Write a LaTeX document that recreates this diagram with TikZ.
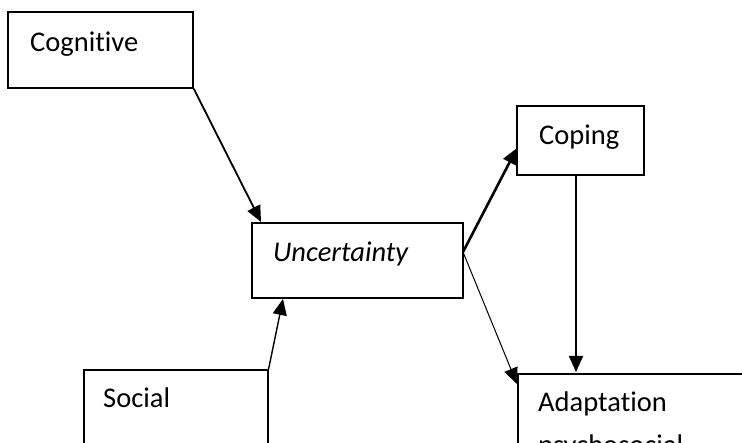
\documentclass[tikz,border=0pt]{standalone}
\usepackage{fontspec}
\setmainfont{Carlito}[Ligatures={NoCommon}]
\usetikzlibrary{arrows.meta}
\begin{document}
\begin{tikzpicture}[x=1pt,y=-1pt,
  boxline/.style={draw=black,line width=1.6pt},
  lbl/.style={anchor=base west,inner sep=0pt,font=\fontsize{28.5}{34}\selectfont},
  arr/.style={-{Triangle[length=16pt,width=14pt]},line width=#1},
  arr/.default=1.6pt]
\useasboundingbox (0,0) rectangle (742,443);
\clip (0,0) rectangle (742,443);
% boxes
\node[boxline,minimum width=185pt,minimum height=76pt,inner sep=0pt] (cog) at (100.5,50) {};
\node[boxline,minimum width=211pt,minimum height=75pt,inner sep=0pt] (unc) at (357.5,260.5) {};
\node[boxline,minimum width=127pt,minimum height=69pt,inner sep=0pt] (cop) at (580.5,140.5) {};
\node[boxline,minimum width=260pt,minimum height=110pt,inner sep=0pt,anchor=north west] (ada) at (517,373) {};
\node[boxline,minimum width=184pt,minimum height=110pt,inner sep=0pt,anchor=north west] (soc) at (83,369) {};
% texts
\node[lbl] (tcog) at (30,52) {Cognitive};
\node[lbl] (tunc) at (273,262) {\itshape Uncertainty};
\node[lbl] (tcop) at (539,145) {Coping};
\node[lbl] (tada) at (538,412) {Adaptation};
\node[lbl] (tpsy) at (538,455) {psychosocial};
\node[lbl] (tsoc) at (103,408) {Social};
% connectors
\coordinate (cogtip) at (261,222);
\coordinate (soctip) at (283,299);
\coordinate (coptip) at (517,148);
\coordinate (adatip) at (517,384);
\coordinate (uncR) at (463,252);
\coordinate (copB) at (576,175);
\coordinate (adaT) at (576,372);
\draw[arr=1.8pt] (cog.south east) -- (cogtip);
\draw[arr=1.4pt] (soc.north east) -- (soctip);
\draw[arr=2.6pt] (uncR) -- (coptip);
\draw[arr=1pt] (uncR) -- (adatip);
\draw[arr=1.8pt] (copB) -- (adaT);
\end{tikzpicture}
\end{document}
